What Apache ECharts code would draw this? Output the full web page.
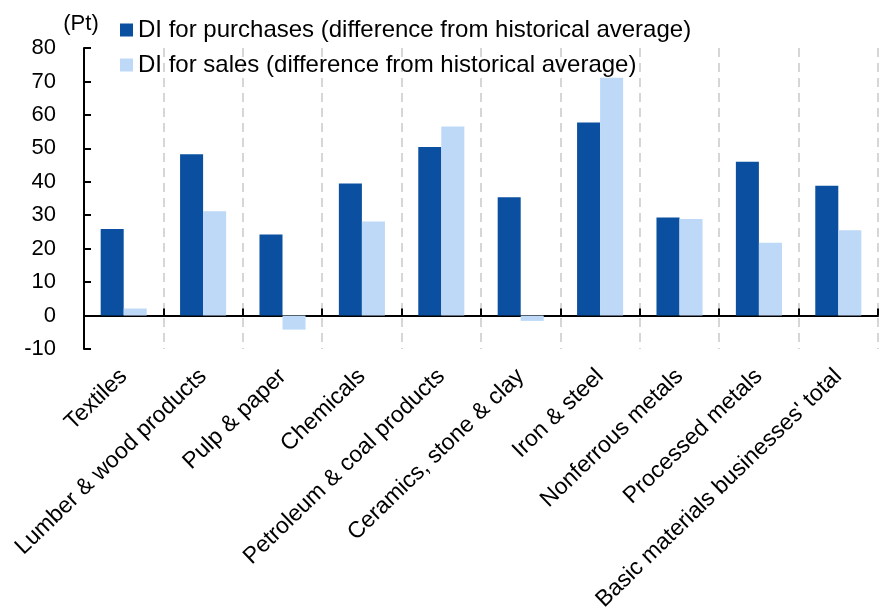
<!DOCTYPE html>
<html>
<head>
<meta charset="utf-8">
<script src="https://cdn.jsdelivr.net/npm/echarts@6/dist/echarts.min.js"></script>
<style>
  html, body { margin: 0; padding: 0; background: #fff; }
  #chart { width: 885px; height: 609px; }
</style>
</head>
<body>
<div id="chart"></div>
<script>
// Industry categories
const categories = [
  'Textiles',
  'Lumber & wood products',
  'Pulp & paper',
  'Chemicals',
  'Petroleum & coal products',
  'Ceramics, stone & clay',
  'Iron & steel',
  'Nonferrous metals',
  'Processed metals',
  "Basic materials businesses' total"
];

// DI values (difference from historical average), Pt
const purchasesDI = [25.9, 48.2, 24.2, 39.5, 50.4, 35.4, 57.7, 29.3, 46.0, 38.8];
const salesDI     = [2.1, 31.2, -4.2, 28.1, 56.5, -1.6, 71.1, 28.9, 21.8, 25.5];

const seriesNames = [
  'DI for purchases (difference from historical average)',
  'DI for sales (difference from historical average)'
];

// Value axis range and step
const yMin = -10;
const yMax = 80;
const yStep = 10;

const FONT = '"Liberation Sans", Arial, sans-serif';

const chart = echarts.init(document.getElementById('chart'), null, { renderer: 'canvas' });

chart.setOption({
  animation: false,
  backgroundColor: '#ffffff',
  textStyle: { fontFamily: FONT, color: '#000' },
  grid: {
    left: 84, right: 7, top: 48, bottom: 260,
    containLabel: false,
    outerBoundsMode: 'none'
  },
  legend: {
    orient: 'vertical',
    left: 120,
    top: 18,
    padding: 0,
    itemWidth: 13,
    itemHeight: 13,
    itemGap: 11,
    icon: 'rect',
    textStyle: { fontSize: 24, fontFamily: FONT, color: '#000', lineHeight: 24 },
    data: seriesNames
  },
  xAxis: [
    {
      // category labels along the bottom edge
      type: 'category',
      data: categories,
      position: 'bottom',
      axisLine: { show: false, onZero: false },
      axisTick: { show: false },
      axisLabel: {
        interval: 0,
        rotate: 44,
        margin: 24,
        fontSize: 23,
        fontFamily: FONT,
        color: '#000'
      },
      splitLine: {
        show: true,
        interval: 0,
        lineStyle: { color: '#d6d6d6', width: 2, type: [9, 6] }
      }
    },
    {
      // baseline at zero with boundary ticks
      type: 'category',
      data: categories,
      position: 'bottom',
      axisLine: { show: true, onZero: true, lineStyle: { color: '#000', width: 2 } },
      axisTick: { show: true, inside: true, length: 7, interval: 0, lineStyle: { color: '#000', width: 2 } },
      axisLabel: { show: false },
      splitLine: { show: false }
    }
  ],
  yAxis: {
    type: 'value',
    min: yMin,
    max: yMax,
    interval: yStep,
    name: '(Pt)',
    nameLocation: 'end',
    nameGap: 13,
    nameTextStyle: { fontSize: 22, fontFamily: FONT, color: '#000', align: 'center', padding: [0, 6, 0, 0] },
    axisLine: { show: true, onZero: false, lineStyle: { color: '#000', width: 2 } },
    axisTick: { show: true, inside: true, length: 7, lineStyle: { color: '#000', width: 2 } },
    axisLabel: { fontSize: 22, fontFamily: FONT, color: '#000', margin: 28 },
    splitLine: { show: false }
  },
  series: [
    {
      name: seriesNames[0],
      type: 'bar',
      xAxisIndex: 0,
      data: purchasesDI,
      barGap: '0%',
      barCategoryGap: '42%',
      itemStyle: { color: '#0B50A0' }
    },
    {
      name: seriesNames[1],
      type: 'bar',
      xAxisIndex: 0,
      data: salesDI,
      barGap: '0%',
      barCategoryGap: '42%',
      itemStyle: { color: '#BDD9F7' }
    }
  ]
});
</script>
</body>
</html>
